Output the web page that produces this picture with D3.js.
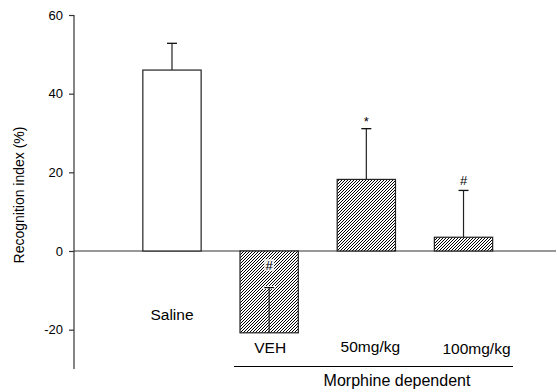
<!DOCTYPE html>
<html>
<head>
<meta charset="utf-8">
<script src="https://cdn.jsdelivr.net/npm/d3@7"></script>
<style>
html,body{margin:0;padding:0;background:#fff;}
svg{display:block;font-family:Arial,"Liberation Sans",sans-serif;}
</style>
</head>
<body>
<svg id="chart" width="557" height="392"></svg>
<script>
// ---- data ----
const categories = ["Saline", "VEH", "50mg/kg", "100mg/kg"];
const means = [46, -20.8, 18.2, 3.5];
const errors = [6.8, 11.5, 12.9, 11.9];
const hatched = [false, true, true, true];
const marks = ["", "#", "*", "#"];
const markValues = [null, -3.6, 33.0, 18.0];
const yTicks = [-20, 0, 20, 40, 60];
const yTitle = "Recognition index (%)";
const groupLabel = "Morphine dependent";

// ---- layout ----
const svg = d3.select("#chart");
const y = d3.scaleLinear().domain([-30, 60]).range([369, 15]);
const x = d3.scaleBand().domain(categories).range([123.4, 512.1])
  .paddingInner(0.4).paddingOuter(0.2);

const defs = svg.append("defs");
const pat = defs.append("pattern").attr("id", "hatch")
  .attr("patternUnits", "userSpaceOnUse").attr("width", 3).attr("height", 3);
pat.append("rect").attr("width", 3).attr("height", 3).attr("fill", "#fff");
pat.append("path").attr("d", "M-1,1 L1,-1 M0,3 L3,0 M2,4 L4,2")
  .attr("stroke", "#000").attr("stroke-width", 1);

// zero line
svg.append("line").attr("x1", 74).attr("x2", 556)
  .attr("y1", y(0)).attr("y2", y(0))
  .attr("stroke", "#333").attr("stroke-width", 1.2);

// y axis
const yAxis = d3.axisLeft(y).tickValues(yTicks).tickSize(5).tickPadding(6)
  .tickFormat(d => String(d));
const ga = svg.append("g").attr("transform", "translate(74,0)").call(yAxis);
ga.select(".domain").attr("d", `M0,${y(60)}V${y(-30)}`).attr("stroke", "#333").attr("stroke-width", 1.2);
ga.selectAll(".tick line").attr("stroke", "#333").attr("stroke-width", 1.2);
ga.selectAll(".tick text").attr("font-size", 13).attr("fill", "#000")
  .attr("font-family", "Arial, 'Liberation Sans', sans-serif");

svg.append("text").attr("transform", "translate(24,195) rotate(-90)")
  .attr("text-anchor", "middle").attr("font-size", 14).text(yTitle);

const data = categories.map((c, i) => ({c, m: means[i], e: errors[i], h: hatched[i], mk: marks[i], mv: markValues[i]}));

function errorBar(d) {
  const cx = x(d.c) + x.bandwidth() / 2;
  const end = d.m + d.e;
  svg.append("line").attr("x1", cx).attr("x2", cx)
    .attr("y1", y(d.m)).attr("y2", y(end))
    .attr("stroke", "#222").attr("stroke-width", 1.2);
  svg.append("line").attr("x1", cx - 5).attr("x2", cx + 5)
    .attr("y1", y(end)).attr("y2", y(end))
    .attr("stroke", "#111").attr("stroke-width", 1.3);
}

data.filter(d => d.m >= 0).forEach(errorBar);

svg.selectAll("rect.bar").data(data).join("rect").attr("class", "bar")
  .attr("x", d => x(d.c))
  .attr("width", x.bandwidth())
  .attr("y", d => y(Math.max(0, d.m)))
  .attr("height", d => Math.abs(y(d.m) - y(0)))
  .attr("fill", d => d.h ? "url(#hatch)" : "#fff")
  .attr("stroke", "#222").attr("stroke-width", 1.2);

// error bars of negative bars drawn over the hatch
data.filter(d => d.m < 0).forEach(d => {
  const cx = x(d.c) + x.bandwidth() / 2;
  const end = d.m + d.e;
  svg.append("rect").attr("x", cx - 6).attr("width", 12)
    .attr("y", y(end) - 1.5).attr("height", 3).attr("fill", "#fff");
  errorBar(d);
});

// annotation marks
const markLayer = svg.append("g");
data.forEach(d => {
  if (!d.mk) return;
  const cx = x(d.c) + x.bandwidth() / 2;
  if (d.m < 0) {
    markLayer.append("rect").attr("x", cx - 5).attr("width", 10)
      .attr("y", y(d.mv) - 6).attr("height", 12).attr("fill", "#fff").attr("fill-opacity", 0.8);
  }
  markLayer.append("text").attr("x", cx).attr("y", y(d.mv) + 4.5)
    .attr("text-anchor", "middle")
    .attr("font-size", 13).attr("fill", "#000").text(d.mk);
});

// category labels
const labelDx = [0, 1, 4, 13];
const labelY = [320, 353, 352, 354];
categories.forEach((c, i) => {
  svg.append("text").attr("x", x(c) + x.bandwidth() / 2 + labelDx[i])
    .attr("y", labelY[i]).attr("text-anchor", "middle")
    .attr("font-size", 15.5).text(c);
});

// group bracket
svg.append("line").attr("x1", 234).attr("x2", 513).attr("y1", 366.5).attr("y2", 366.5)
  .attr("stroke", "#000").attr("stroke-width", 1);
svg.append("text").attr("x", 397).attr("y", 386).attr("text-anchor", "middle")
  .attr("font-size", 16).text(groupLabel);
</script>
</body>
</html>
